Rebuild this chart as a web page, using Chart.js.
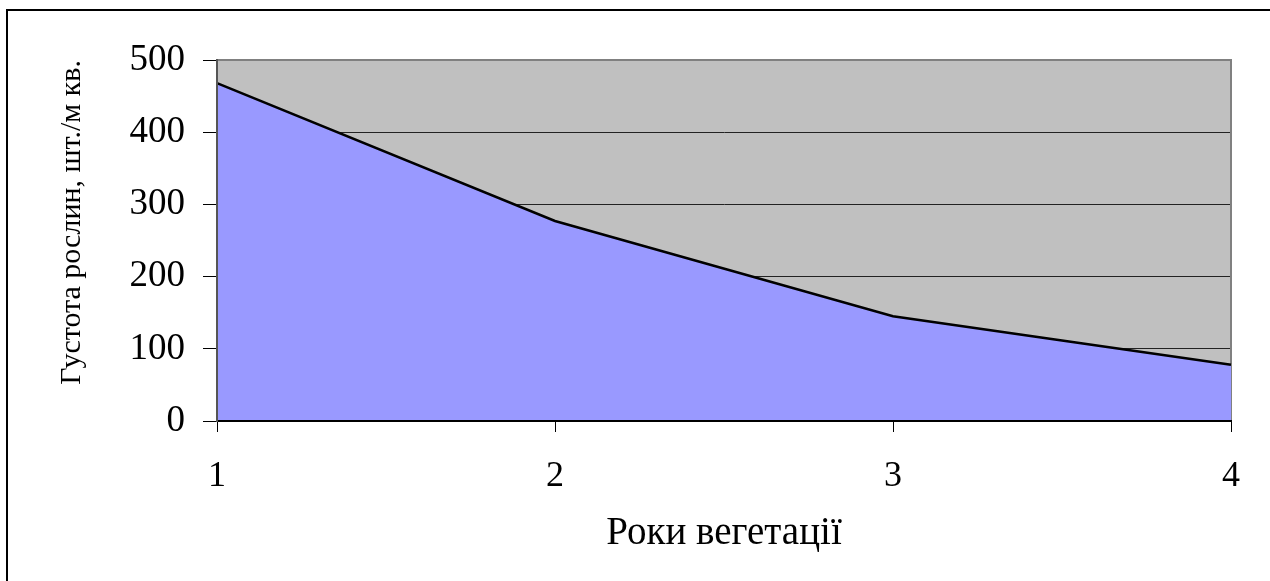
<!DOCTYPE html>
<html lang="uk">
<head>
<meta charset="utf-8">
<title>Густота рослин</title>
<script src="https://cdn.jsdelivr.net/npm/chart.js@4/dist/chart.umd.min.js"></script>
<style>
    html, body { margin: 0; padding: 0; background: #fff; overflow: hidden; }
    #frame {
        position: absolute; left: 6px; top: 9px;
        width: 1400px; height: 700px;
        border: 2px solid #000;
    }
    #wrap { position: absolute; left: 0; top: 0; width: 1270px; height: 581px; }
</style>
</head>
<body>
<div id="frame"></div>
<div id="wrap"><canvas id="chart"></canvas></div>
<script>
// Дані діаграми
const years = ['1', '2', '3', '4'];
const density = [468, 277, 145, 78];
const yTicks = [0, 100, 200, 300, 400, 500];

const yTitle = 'Густота рослин, шт./м кв.';
const xTitle = 'Роки вегетації';

const serif = "'Liberation Serif', 'Times New Roman', serif";

// Сірий фон області побудови та її рамка
const plotArea = {
    id: 'plotArea',
    beforeDraw(chart) {
        const { ctx, chartArea: a } = chart;
        ctx.save();
        ctx.fillStyle = '#C0C0C0';
        ctx.fillRect(a.left, a.top, a.right - a.left, a.bottom - a.top);
        ctx.restore();
    },
    beforeDatasetsDraw(chart) {
        const { ctx, chartArea: a } = chart;
        ctx.save();
        ctx.strokeStyle = '#808080';
        ctx.lineWidth = 2;
        ctx.beginPath();
        ctx.moveTo(a.left, a.top);
        ctx.lineTo(a.right, a.top);
        ctx.lineTo(a.right, a.bottom);
        ctx.stroke();
        ctx.restore();
    }
};

const ctx = document.getElementById('chart').getContext('2d');
new Chart(ctx, {
    type: 'line',
    data: {
        labels: years,
        datasets: [{
            data: density,
            fill: 'origin',
            backgroundColor: '#9999FF',
            borderColor: '#000',
            borderWidth: 2.5,
            pointRadius: 0,
            tension: 0
        }]
    },
    options: {
        responsive: true,
        maintainAspectRatio: false,
        animation: false,
        layout: { padding: { left: 40, top: 60, right: 39, bottom: 10 } },
        plugins: {
            legend: { display: false },
            tooltip: { enabled: false }
        },
        scales: {
            x: {
                type: 'category',
                offset: false,
                afterFit: scale => { scale.height = 150; },
                grid: {
                    drawOnChartArea: false,
                    tickLength: 11,
                    tickColor: '#000'
                },
                border: { color: '#000', width: 2, z: 1 },
                ticks: {
                    color: '#000',
                    padding: 23,
                    maxRotation: 0,
                    font: { family: serif, size: 36 }
                },
                title: {
                    display: true,
                    text: xTitle,
                    color: '#000',
                    padding: { top: 0, bottom: 14 },
                    font: { family: serif, size: 39 }
                }
            },
            y: {
                min: 0,
                max: 500,
                afterFit: scale => { scale.width = 177; },
                afterBuildTicks: scale => {
                    scale.ticks = yTicks.map(v => ({ value: v }));
                },
                grid: {
                    color: '#222',
                    lineWidth: 1,
                    tickLength: 14,
                    tickColor: '#000'
                },
                border: { color: '#555', width: 2, z: 1 },
                ticks: {
                    color: '#000',
                    padding: 18,
                    font: { family: serif, size: 37 }
                },
                title: {
                    display: true,
                    text: yTitle,
                    align: 'end',
                    color: '#000',
                    padding: { top: 14, bottom: 0 },
                    font: { family: serif, size: 30 }
                }
            }
        }
    },
    plugins: [plotArea]
});
</script>
</body>
</html>
